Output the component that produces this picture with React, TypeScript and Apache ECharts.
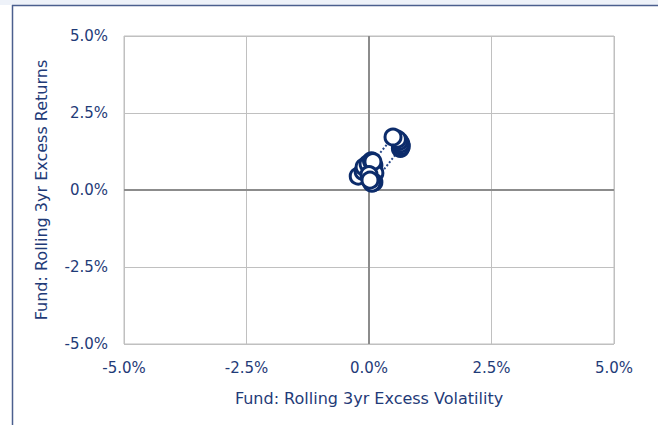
import React, { useEffect, useRef } from "react";
import * as echarts from "echarts";

// Rolling 3yr excess volatility (%) and excess returns (%), in time order
const volatility = [-0.22, -0.12, -0.1, -0.02, 0.05, 0.1, 0.12, 0.1, 0.64, 0.66, 0.65, 0.62, 0.58, 0.49, 0.08, 0.0, 0.06, 0.02];
const returns = [0.45, 0.6, 0.75, 0.85, 0.95, 0.8, 0.55, 0.25, 1.35, 1.42, 1.5, 1.58, 1.65, 1.72, 0.92, 0.5, 0.22, 0.32];
const tickValues = [-5, -2.5, 0, 2.5, 5];

const navy = "#0c2c6b";
const textColor = "#1f3b78";
const font = "DejaVu Sans";

export default function App() {
  const ref = useRef<HTMLDivElement>(null);
  useEffect(() => {
    const chart = echarts.init(ref.current!, null, { renderer: "svg" });
    const data = volatility.map((v, i) => [v, returns[i]]);
    const fmt = (v: number) => v.toFixed(1) + "%";
    chart.setOption({
      animation: false,
      backgroundColor: "#ffffff",
      grid: { left: 124, right: 44, top: 36, bottom: 81, show: true, borderColor: "#bfbfbf", borderWidth: 1 },
      xAxis: {
        type: "value",
        min: tickValues[0],
        max: tickValues[tickValues.length - 1],
        interval: 2.5,
        axisLine: { show: false },
        axisTick: { show: false },
        splitLine: { lineStyle: { color: "#c0c0c0", width: 1 } },
        axisLabel: { formatter: fmt, color: textColor, fontFamily: font, fontSize: 15, margin: 16 },
        name: "Fund: Rolling 3yr Excess Volatility",
        nameLocation: "middle",
        nameGap: 46,
        nameTextStyle: { color: textColor, fontFamily: font, fontSize: 16 },
      },
      yAxis: {
        type: "value",
        min: tickValues[0],
        max: tickValues[tickValues.length - 1],
        interval: 2.5,
        axisLine: { show: false },
        axisTick: { show: false },
        splitLine: { lineStyle: { color: "#c0c0c0", width: 1 } },
        axisLabel: { formatter: fmt, color: textColor, fontFamily: font, fontSize: 15, margin: 16 },
        name: "Fund: Rolling 3yr Excess Returns",
        nameLocation: "middle",
        nameGap: 75,
        nameTextStyle: { color: textColor, fontFamily: font, fontSize: 16 },
      },
      series: [
        {
          type: "line",
          data,
          symbol: "circle",
          symbolSize: 16,
          showAllSymbol: true,
          lineStyle: { color: "#2a4a8a", width: 2, type: "dotted" },
          itemStyle: { color: "#ffffff", borderColor: navy, borderWidth: 3 },
          z: 5,
          markLine: {
            silent: true,
            symbol: "none",
            label: { show: false },
            lineStyle: { color: "#8c8c8c", width: 2, type: "solid" },
            data: [{ xAxis: 0 }, { yAxis: 0 }],
            z: 1,
          },
        },
      ],
      graphic: [
        { type: "rect", shape: { x: 0, y: 0, width: 658, height: 5 }, style: { fill: "#eef2f9" }, silent: true },
        { type: "line", shape: { x1: 12.5, y1: 5, x2: 12.5, y2: 425 }, style: { stroke: "#4b5f8e", lineWidth: 1.5 }, silent: true },
        { type: "line", shape: { x1: 12, y1: 5.5, x2: 658, y2: 5.5 }, style: { stroke: "#4b5f8e", lineWidth: 1.5 }, silent: true },
      ],
    });
    return () => chart.dispose();
  }, []);
  return <div ref={ref} style={{ position: "fixed", left: 0, top: 0, width: 658, height: 425 }} />;
}
